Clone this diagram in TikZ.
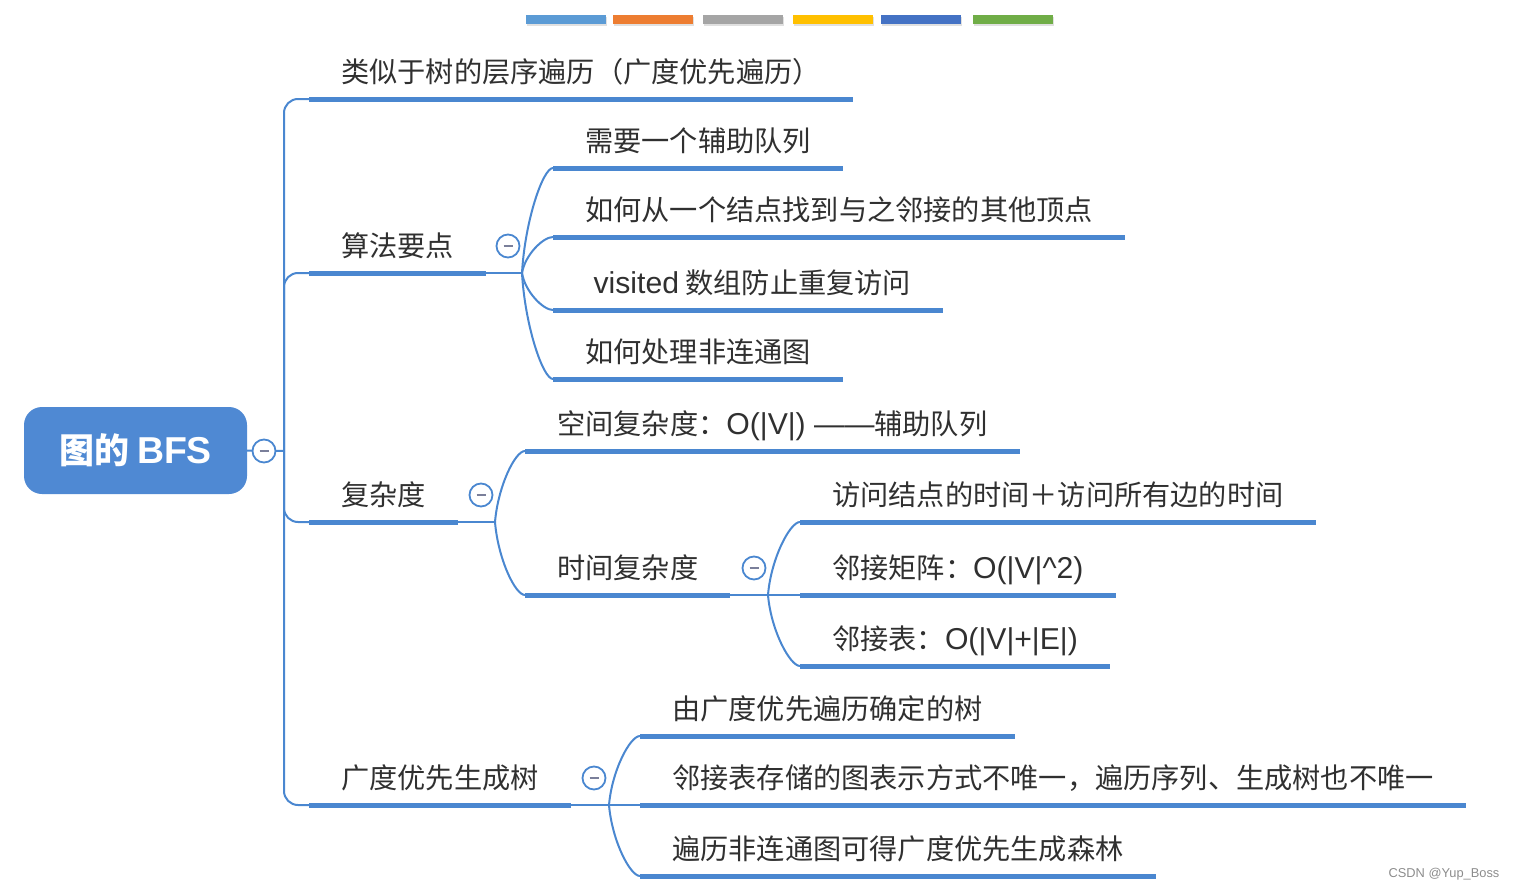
\documentclass[tikz,border=0pt]{standalone}
\usepackage{fontspec}
\newfontfamily\cjk{Noto Sans CJK SC}
\newfontfamily\lat[Scale=1.07]{Liberation Sans}
\usetikzlibrary{positioning, calc}
\definecolor{mLineBlue}{HTML}{4A87D0}
\definecolor{mRootBlue}{HTML}{4F89D3}
\definecolor{mText}{HTML}{303030}
\definecolor{mMinus}{HTML}{7A7F9A}
\definecolor{mBarBlue}{HTML}{5B9BD5}
\definecolor{mBarOrange}{HTML}{ED7D31}
\definecolor{mBarGray}{HTML}{A5A5A5}
\definecolor{mBarYellow}{HTML}{FFC000}
\definecolor{mBarNavy}{HTML}{4472C4}
\definecolor{mBarGreen}{HTML}{70AD47}

\begin{document}
\begin{tikzpicture}[
    x=1pt, y=-1pt,
    topic/.style={anchor=south west, font=\cjk\fontsize{28.2}{30}\selectfont, text=mText,
                  inner xsep=32pt, inner ysep=12pt, text height=21pt, text depth=4pt},
    uline/.style={draw=mLineBlue, line width=5pt},
    conn/.style={draw=mLineBlue, line width=2pt},
    toggle/.style={circle, draw=mLineBlue, line width=1.8pt, fill=white,
                   minimum size=23pt, inner sep=0pt,
                   path picture={\draw[mMinus, line width=1.5pt]
                     ([xshift=-4.5pt]path picture bounding box.center) --
                     ([xshift=4.5pt]path picture bounding box.center);}},
    root/.style={rounded corners=18pt, fill=mRootBlue, text=white,
                 font=\cjk\bfseries\fontsize{35}{36}\selectfont,
                 minimum width=223pt, minimum height=87pt},
  ]
    \useasboundingbox (0,0) rectangle (1516,891);

    % colour bars on top
    \foreach \x/\c in {526/mBarBlue, 613/mBarOrange, 703/mBarGray,
                       793/mBarYellow, 881/mBarNavy, 973/mBarGreen} {
      \fill[black!12] (\x+1,17) rectangle ++(80,9);
      \fill[\c] (\x,15) rectangle ++(80,9);
    }

    % root
    \node[root] (root) at (135.5,450.5) {图的 {\lat BFS}};
    \coordinate (j0) at (284,451);

    % first level
    \node[topic] (t1) at (309,99) {类似于树的层序遍历（广度优先遍历）};
    \node[topic] (t2) at (309,273) {算法要点};
    \node[topic] (t3) at (309,522) {复杂度};
    \node[topic] (t4) at (309,805) {广度优先生成树};

    % 算法要点
    \coordinate (b2) at (522,273);
    \node[topic] (c21) at (553,168) {需要一个辅助队列};
    \node[topic] (c22) at (553,237) {如何从一个结点找到与之邻接的其他顶点};
    \node[topic] (c23) at (553,310) {{\lat\ visited} 数组防止重复访问};
    \node[topic] (c24) at (553,379) {如何处理非连通图};

    % 复杂度
    \coordinate (b3) at (495,522);
    \node[topic] (c31) at (525,451) {空间复杂度：{\lat O(|V|) ——}辅助队列};
    \node[topic] (c32) at (525,595) {时间复杂度};
    \coordinate (b32) at (768,595);
    \node[topic] (c321) at (800,522) {访问结点的时间＋访问所有边的时间};
    \node[topic] (c322) at (800,595) {邻接矩阵：{\lat O(|V|\textasciicircum 2)}};
    \node[topic] (c323) at (800,666) {邻接表：{\lat O(|V|+|E|)}};

    % 广度优先生成树
    \coordinate (b4) at (609,805);
    \node[topic] (c41) at (640,736) {由广度优先遍历确定的树};
    \node[topic] (c42) at (640,805) {邻接表存储的图表示方式不唯一，遍历序列、生成树也不唯一};
    \node[topic] (c43) at (640,876) {遍历非连通图可得广度优先生成森林};

    % underlines
    \foreach \n in {t1,t2,t3,t4,c21,c22,c23,c24,c31,c32,c321,c322,c323,c41,c42,c43}
      \draw[uline] (\n.south west) -- (\n.south east);

    % connectors
    \draw[conn] (root.east) -- (j0);
    \foreach \n in {t1,t2,t3,t4}
      \draw[conn, rounded corners=14pt] (j0) |- (\n.south west);
    \draw[conn] (t2.south east) -- (b2);
    \foreach \n in {c21,c22,c23,c24}
      \draw[conn] (b2) .. controls ($(b2)!.5!(b2 |- \n.south west)+(3,0)$)
        and ([xshift=-10pt]\n.south west) .. (\n.south west);
    \draw[conn] (t3.south east) -- (b3);
    \foreach \n in {c31,c32}
      \draw[conn] (b3) .. controls ($(b3)!.5!(b3 |- \n.south west)+(3,0)$)
        and ([xshift=-10pt]\n.south west) .. (\n.south west);
    \draw[conn] (c32.south east) -- (b32);
    \foreach \n in {c321,c322,c323}
      \draw[conn] (b32) .. controls ($(b32)!.5!(b32 |- \n.south west)+(3,0)$)
        and ([xshift=-10pt]\n.south west) .. (\n.south west);
    \draw[conn] (t4.south east) -- (b4);
    \foreach \n in {c41,c42,c43}
      \draw[conn] (b4) .. controls ($(b4)!.5!(b4 |- \n.south west)+(3,0)$)
        and ([xshift=-10pt]\n.south west) .. (\n.south west);

    % collapse toggles
    \node[toggle] (tg0) at (264,451) {};
    \node[toggle] (tg2) at (508,246) {};
    \node[toggle] (tg3) at (481,495) {};
    \node[toggle] (tg32) at (754,568) {};
    \node[toggle] (tg4) at (594,778) {};

    % watermark
    \node[font=\lat\fontsize{12}{12}\selectfont, text=black!45] (mark) at (1444,874) {CSDN @Yup\_Boss};
  \end{tikzpicture}
\end{document}
